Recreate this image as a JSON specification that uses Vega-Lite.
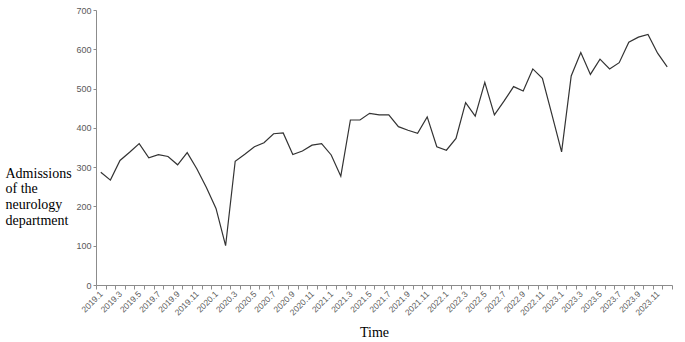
{
  "$schema": "https://vega.github.io/schema/vega-lite/v6.json",
  "width": 576,
  "height": 275,
  "autosize": "none",
  "padding": {"left": 96, "top": 10, "right": 13, "bottom": 57},
  "background": "white",
  "config": {"view": {"stroke": null}},
  "data": {"values": [
    {"month": "2019.1", "v": 287}, {"month": "2019.2", "v": 267}, {"month": "2019.3", "v": 317}, {"month": "2019.4", "v": 338},
    {"month": "2019.5", "v": 360}, {"month": "2019.6", "v": 324}, {"month": "2019.7", "v": 332}, {"month": "2019.8", "v": 327},
    {"month": "2019.9", "v": 306}, {"month": "2019.10", "v": 337}, {"month": "2019.11", "v": 296}, {"month": "2019.12", "v": 248},
    {"month": "2020.1", "v": 195}, {"month": "2020.2", "v": 100}, {"month": "2020.3", "v": 315}, {"month": "2020.4", "v": 333},
    {"month": "2020.5", "v": 352}, {"month": "2020.6", "v": 362}, {"month": "2020.7", "v": 385}, {"month": "2020.8", "v": 387},
    {"month": "2020.9", "v": 332}, {"month": "2020.10", "v": 341}, {"month": "2020.11", "v": 356}, {"month": "2020.12", "v": 360},
    {"month": "2021.1", "v": 331}, {"month": "2021.2", "v": 277}, {"month": "2021.3", "v": 420}, {"month": "2021.4", "v": 420},
    {"month": "2021.5", "v": 437}, {"month": "2021.6", "v": 433}, {"month": "2021.7", "v": 433}, {"month": "2021.8", "v": 403},
    {"month": "2021.9", "v": 394}, {"month": "2021.10", "v": 386}, {"month": "2021.11", "v": 428}, {"month": "2021.12", "v": 352},
    {"month": "2022.1", "v": 343}, {"month": "2022.2", "v": 373}, {"month": "2022.3", "v": 464}, {"month": "2022.4", "v": 430},
    {"month": "2022.5", "v": 516}, {"month": "2022.6", "v": 433}, {"month": "2022.7", "v": 468}, {"month": "2022.8", "v": 505},
    {"month": "2022.9", "v": 494}, {"month": "2022.10", "v": 550}, {"month": "2022.11", "v": 526}, {"month": "2022.12", "v": 433},
    {"month": "2023.1", "v": 339}, {"month": "2023.2", "v": 532}, {"month": "2023.3", "v": 592}, {"month": "2023.4", "v": 536},
    {"month": "2023.5", "v": 575}, {"month": "2023.6", "v": 550}, {"month": "2023.7", "v": 566}, {"month": "2023.8", "v": 618},
    {"month": "2023.9", "v": 631}, {"month": "2023.10", "v": 638}, {"month": "2023.11", "v": 590}, {"month": "2023.12", "v": 555}
  ]},
  "mark": {"type": "line", "color": "#333333", "strokeWidth": 1.2},
  "encoding": {
    "x": {
      "field": "month", "type": "ordinal", "sort": null,
      "scale": {"type": "band", "paddingInner": 0, "paddingOuter": 0},
      "axis": {
        "title": "Time",
        "titleFont": "Liberation Serif", "titleFontSize": 14, "titleFontWeight": "normal", "titleColor": "#000000",
        "titleX": 278, "titleY": 47, "titleBaseline": "middle",
        "tickBand": "extent", "tickSize": 4, "tickColor": "#8c8c8c", "domainColor": "#8c8c8c",
        "labelAngle": -45, "labelAlign": "right", "labelBaseline": "middle", "labelPadding": 3,
        "labelFont": "Liberation Sans", "labelFontSize": 8.5, "labelColor": "#595959",
        "labelOverlap": false,
        "labelExpr": "toNumber(split(datum.value, '.')[1]) % 2 == 1 ? datum.value : ''",
        "grid": false
      }
    },
    "y": {
      "field": "v", "type": "quantitative",
      "scale": {"domain": [0, 700], "nice": false},
      "axis": {
        "title": ["Admissions", "of the", "neurology", "department"],
        "titleAngle": 0, "titleAlign": "left", "titleBaseline": "middle",
        "titleX": -91, "titleY": 163, "titleLineHeight": 15.7,
        "titleFont": "Liberation Serif", "titleFontSize": 14, "titleFontWeight": "normal", "titleColor": "#000000",
        "values": [0, 100, 200, 300, 400, 500, 600, 700],
        "tickSize": 3, "tickColor": "#8c8c8c", "domainColor": "#8c8c8c",
        "labelFont": "Liberation Sans", "labelFontSize": 9, "labelColor": "#595959", "labelPadding": 2,
        "grid": false
      }
    }
  }
}
